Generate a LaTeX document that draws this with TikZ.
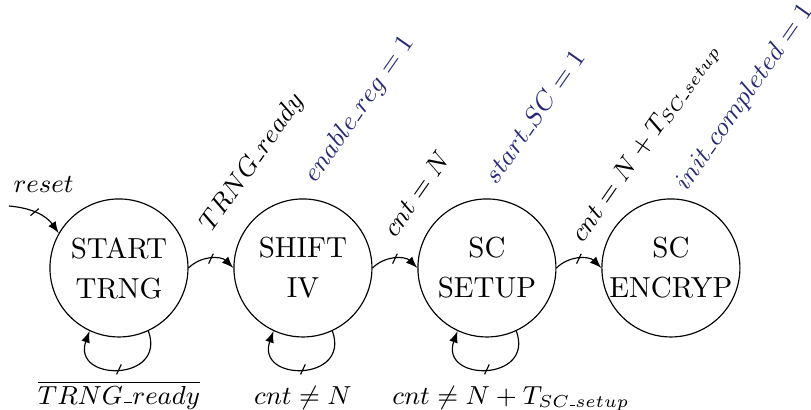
\documentclass[tikz,border=0pt]{standalone}
\usepackage{amsmath,amssymb}
\usepackage{tikz}
\usetikzlibrary{positioning, decorations.markings}

\definecolor{outcol}{RGB}{40,40,120}
\newcommand{\us}{\text{\kern0.03em\rule[0.08ex]{0.3em}{0.42pt}\kern0.03em}}
\newcommand{\condfont}{\fontsize{8.7}{10}\selectfont}

\tikzset{
  stage/.style={circle, draw, minimum size=1.673cm, inner sep=0pt, align=center},
  cond/.style={font=\condfont, anchor=south west, rotate=55},
  outp/.style={cond, text=outcol},
  loopcond/.style={font=\small, anchor=base, yshift=-12pt},
  trans/.style={postaction={decorate}, decoration={markings,
      mark=at position #1 with {\draw[-] (-0.8pt,-1.7pt) -- (0.8pt,1.7pt);}}},
  trans/.default=0.5
}

\begin{document}
\begin{tikzpicture}[node distance=2.23cm,on grid,>=latex]
  \useasboundingbox (0,0) rectangle (9.83,4.969);
  \node[stage] (start) at (1.442,1.721) {START\\[1.8pt]TRNG};
  \node[stage] (shift) [right=of start] {SHIFT\\[1.8pt]IV};
  \node[stage] (setup) [right=of shift] {SC\\[1.8pt]SETUP};
  \node[stage] (encr) [right=of setup] {SC\\[1.8pt]ENCRYP};
  \coordinate (reset) at (0.109,2.472);

  % outputs of the states
  \node[outp] (shiftout) at (shift.74) {$enable\us reg = 1$};
  \node[outp] (setupout) at (setup.80) {$start\us SC = 1$};
  \node[outp] (encrout) at ([shift={(-2pt,-1.5pt)}]encr.66) {$init\us completed = 1$};

  \node[font=\small, anchor=base west, inner sep=0pt] (resetlbl)
    at ([shift={(1.4pt,4.5pt)}]reset) {$reset$};

  \path[->]
    (reset) edge [trans=0.45, out=-5, in=125] (start.150)
    (start.east) edge [trans, bend left=45]
        node [xshift=2.5pt, yshift=3pt, cond] {$TRNG\us ready$} (shift.west)
    (shift.east) edge [trans, bend left=45]
        node [xshift=1pt, yshift=2pt, cond] {$cnt = N$} (setup.west)
    (setup.east) edge [trans, bend left=45]
        node [xshift=4pt, yshift=-1pt, cond] {$cnt = N + T_{SC\us setup}$} (encr.west)
    (start.-65) edge [trans, out=-70, in=-110, distance=0.66cm]
        node [loopcond] {$\overline{TRNG\us ready}$} (start.-115)
    (shift.-65) edge [trans, out=-70, in=-110, distance=0.66cm]
        node [loopcond] {$cnt \neq N$} (shift.-115)
    (setup.-65) edge [trans, out=-70, in=-110, distance=0.66cm]
        node [loopcond, xshift=8.3pt] {$cnt \neq N + T_{SC\us setup}$} (setup.-115);
\end{tikzpicture}
\end{document}
